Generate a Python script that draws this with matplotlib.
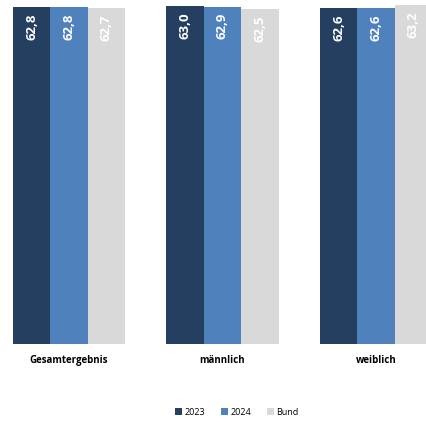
import numpy as np
import matplotlib
matplotlib.use("Agg")
import matplotlib.pyplot as plt

# Data
categories = ["Gesamtergebnis", "männlich", "weiblich"]
series_names = ["2023", "2024", "Bund"]
values_2023 = [62.8, 63.0, 62.6]
values_2024 = [62.8, 62.9, 62.6]
values_bund = [62.7, 62.5, 63.2]
colors = ["#243F60", "#4F81BD", "#D9D9D9"]

plt.rcParams["font.family"] = ["Open Sans", "DejaVu Sans"]

fig = plt.figure(figsize=(4.27, 4.23), dpi=100)
# axes spans full width; bottom of axes = bar baseline
ax = fig.add_axes([0, 79 / 423, 1, 344 / 423])

x = np.arange(len(categories))
w = 0.244
all_vals = [values_2023, values_2024, values_bund]
for i, (vals, name, col) in enumerate(zip(all_vals, series_names, colors)):
    pos = x + (i - 1) * w
    ax.bar(pos, vals, width=w, color=col, label=name)
    for p, v in zip(pos, vals):
        ax.annotate(f"{v:.1f}".replace(".", ","), xy=(p, v), xytext=(0, -4.5),
                    textcoords="offset points", rotation=90, ha="center",
                    va="top", color="white", fontsize=9.5, fontweight="bold")

ax.set_xlim(-69 / 153.5, (427 - 69) / 153.5)
ax.set_ylim(0, 344 / 5.36)
ax.set_xticks(x)
ax.set_xticklabels(categories, fontsize=7, fontweight="bold")
ax.tick_params(axis="x", length=0, pad=8)
ax.set_yticks([])
for s in ax.spines.values():
    s.set_visible(False)

handles, labels = ax.get_legend_handles_labels()
fig.legend(handles, labels, loc="center", bbox_to_anchor=(237 / 427, 1 - 412 / 423),
           ncol=3, frameon=False, fontsize=6.5, handlelength=0.7, handleheight=0.7,
           handletextpad=0.3, columnspacing=1.8)

fig.savefig("out.png", dpi=100)
